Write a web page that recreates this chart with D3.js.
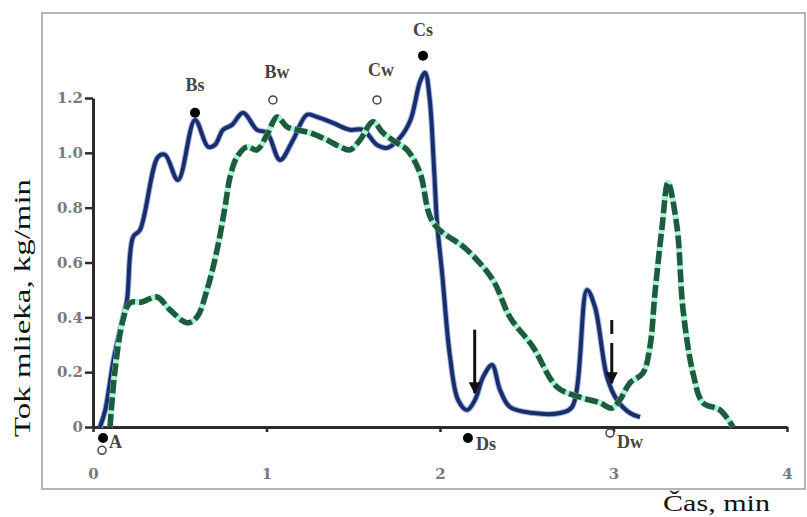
<!DOCTYPE html>
<html>
<head>
<meta charset="utf-8">
<script src="https://cdn.jsdelivr.net/npm/d3@7"></script>
<style>
  body { margin: 0; background: #fff; }
  svg text { font-family: "Liberation Serif", "DejaVu Serif", serif; }
</style>
</head>
<body>
<div id="chart"></div>
<script>
// Milk flow curves: s = solid (blue), w = dashed (green)
const sTime = [0.04, 0.07, 0.12, 0.173, 0.196, 0.231, 0.271, 0.375, 0.415, 0.49, 0.588, 0.663, 0.703, 0.749, 0.801, 0.865, 0.945, 1.003, 1.078, 1.153, 1.233, 1.291, 1.383, 1.481, 1.556, 1.637, 1.695, 1.769, 1.83, 1.885, 1.914, 1.94, 1.965, 1.983, 2.012, 2.058, 2.104, 2.156, 2.202, 2.248, 2.3, 2.346, 2.403, 2.536, 2.692, 2.761, 2.847, 2.893, 2.963, 3.02, 3.095, 3.153];
const sFlow = [0, 0.06, 0.25, 0.40, 0.463, 0.693, 0.719, 0.985, 0.993, 0.901, 1.12, 1.022, 1.029, 1.084, 1.102, 1.146, 1.084, 1.073, 0.974, 1.047, 1.139, 1.131, 1.109, 1.084, 1.084, 1.029, 1.018, 1.055, 1.12, 1.26, 1.292, 1.20, 0.95, 0.745, 0.562, 0.255, 0.099, 0.062, 0.099, 0.182, 0.226, 0.135, 0.073, 0.051, 0.051, 0.073, 0.50, 0.438, 0.182, 0.099, 0.051, 0.036];

const wTime = [0.098, 0.127, 0.173, 0.213, 0.282, 0.369, 0.444, 0.542, 0.599, 0.657, 0.715, 0.761, 0.79, 0.83, 0.888, 0.945, 1.003, 1.061, 1.118, 1.176, 1.251, 1.349, 1.424, 1.481, 1.539, 1.614, 1.671, 1.752, 1.81, 1.885, 1.96, 2.156, 2.305, 2.403, 2.536, 2.674, 2.807, 2.922, 2.991, 3.037, 3.095, 3.17, 3.21, 3.239, 3.28, 3.314, 3.366, 3.401, 3.458, 3.516, 3.614, 3.689];
const wFlow = [0, 0.208, 0.391, 0.453, 0.456, 0.474, 0.427, 0.38, 0.401, 0.5, 0.646, 0.803, 0.912, 0.985, 1.022, 1.011, 1.066, 1.131, 1.095, 1.084, 1.073, 1.047, 1.022, 1.011, 1.047, 1.113, 1.073, 1.036, 1.011, 0.927, 0.745, 0.646, 0.536, 0.401, 0.292, 0.146, 0.109, 0.088, 0.069, 0.099, 0.161, 0.197, 0.292, 0.489, 0.73, 0.891, 0.73, 0.427, 0.197, 0.088, 0.062, 0];

// Phase points
const markNames = ["Bs", "Bw", "Cw", "Cs", "A", "A", "Ds", "Dw"];
const markTime = [0.588, 1.037, 1.637, 1.902, 0.058, 0.052, 2.161, 2.98];
const markFlow = [1.146, 1.193, 1.193, 1.354, -0.04, -0.085, -0.04, -0.022];
const markFilled = [true, false, false, true, true, false, true, false];
const markShowLabel = [true, true, true, true, true, false, true, true];

// Arrows
const arrowTime = [2.2, 2.99];
const arrowFrom = [0.355, 0.39];
const arrowTo = [0.124, 0.16];
const arrowDashed = [false, true];

const xTicks = [0, 1, 2, 3, 4];
const yTicks = [0, 0.2, 0.4, 0.6, 0.8, 1.0, 1.2];
const yTickLabels = ["0", "0.2", "0.4", "0.6", "0.8", "1.0", "1.2"];

const W = 807, H = 517;
const svg = d3.select("#chart").append("svg").attr("width", W).attr("height", H);

// Frame
svg.append("rect")
   .attr("x", 42).attr("y", 13).attr("width", 763).attr("height", 476)
   .attr("fill", "none").attr("stroke", "#b5b5b5").attr("stroke-width", 2);

const x = d3.scaleLinear().domain([0, 4]).range([93, 787]);
const y = d3.scaleLinear().domain([0, 1.2]).range([427, 98]);

// Axes
const xAxis = svg.append("g")
   .attr("transform", `translate(0,${y(0)})`)
   .call(d3.axisBottom(x).tickValues(xTicks).tickFormat(d3.format("d")).tickSize(5).tickPadding(36).tickSizeOuter(0));
const yAxis = svg.append("g")
   .attr("transform", `translate(${x(0)},0)`)
   .call(d3.axisLeft(y).tickValues(yTicks).tickFormat((d, i) => yTickLabels[i]).tickSize(8).tickPadding(2).tickSizeOuter(0));

[xAxis, yAxis].forEach(g => {
  g.select(".domain").attr("stroke", "#2b2b2b").attr("stroke-width", 3);
  g.selectAll(".tick line").attr("stroke", "#2b2b2b").attr("stroke-width", 2.5);
  g.selectAll(".tick text")
   .attr("fill", "#7a7a7a")
   .style("font-family", "'DejaVu Serif', serif")
   .style("font-weight", "bold")
   .style("font-size", "15px");
});

// Axis titles
svg.append("text")
   .attr("transform", `translate(30,308) rotate(-90)`)
   .attr("text-anchor", "middle")
   .attr("textLength", 258).attr("lengthAdjust", "spacingAndGlyphs")
   .style("font-size", "24px").attr("fill", "#111")
   .text("Tok mlieka, kg/min");
svg.append("text")
   .attr("x", 663).attr("y", 511)
   .attr("textLength", 107).attr("lengthAdjust", "spacingAndGlyphs")
   .style("font-size", "24px").attr("fill", "#111")
   .text("Čas, min");

const line = d3.line().x(d => x(d[0])).y(d => y(d[1])).curve(d3.curveCatmullRom.alpha(0.5));
const sData = sTime.map((t, i) => [t, sFlow[i]]);
const wData = wTime.map((t, i) => [t, wFlow[i]]);

// Solid (blue) curve
svg.append("path").datum(sData).attr("d", line)
   .attr("fill", "none").attr("stroke", "#9fb4e0").attr("stroke-width", 6).attr("stroke-linejoin", "round");
svg.append("path").datum(sData).attr("d", line)
   .attr("fill", "none").attr("stroke", "#1a2d6b").attr("stroke-width", 4).attr("stroke-linejoin", "round");

// Dashed (green) curve
svg.append("path").datum(wData).attr("d", line)
   .attr("fill", "none").attr("stroke", "#a6f2d6").attr("stroke-width", 6).attr("stroke-linejoin", "round");
svg.append("path").datum(wData).attr("d", line)
   .attr("fill", "none").attr("stroke", "#1f5a3c").attr("stroke-width", 5.5)
   .attr("stroke-dasharray", "13,4");

// Arrows
const defs = svg.append("defs");
defs.append("marker").attr("id", "head")
   .attr("viewBox", "0 0 10 10").attr("refX", 9).attr("refY", 5)
   .attr("markerWidth", 4).attr("markerHeight", 4).attr("orient", "auto")
   .append("path").attr("d", "M0,0 L10,5 L0,10 Z").attr("fill", "#111");
arrowTime.forEach((t, i) => {
  svg.append("line")
     .attr("x1", x(t)).attr("x2", x(t))
     .attr("y1", y(arrowFrom[i])).attr("y2", y(arrowTo[i]))
     .attr("stroke", "#111").attr("stroke-width", 3)
     .attr("stroke-dasharray", arrowDashed[i] ? "14,9,200" : null)
     .attr("marker-end", "url(#head)");
});

// Phase markers
markTime.forEach((t, i) => {
  svg.append("circle")
     .attr("cx", x(t)).attr("cy", y(markFlow[i]))
     .attr("r", markFilled[i] ? 5 : 4)
     .attr("fill", markFilled[i] ? "#000" : "#fff")
     .attr("stroke", markFilled[i] ? "none" : "#444")
     .attr("stroke-width", 1.5);
});
const labelPos = {
  "Bs": [0, -22, "middle"], "Bw": [4, -22, "middle"], "Cw": [4, -24, "middle"], "Cs": [0, -20, "middle"],
  "A": [6, 10, "start"], "Ds": [8, 12, "start"], "Dw": [7, 15, "start"]
};
markNames.forEach((n, i) => {
  if (!markShowLabel[i]) return;
  const p = labelPos[n];
  svg.append("text")
     .attr("x", x(markTime[i]) + p[0]).attr("y", y(markFlow[i]) + p[1])
     .attr("text-anchor", p[2])
     .style("font-size", "18px").style("font-weight", "bold").attr("fill", "#444")
     .text(n);
});
</script>
</body>
</html>
